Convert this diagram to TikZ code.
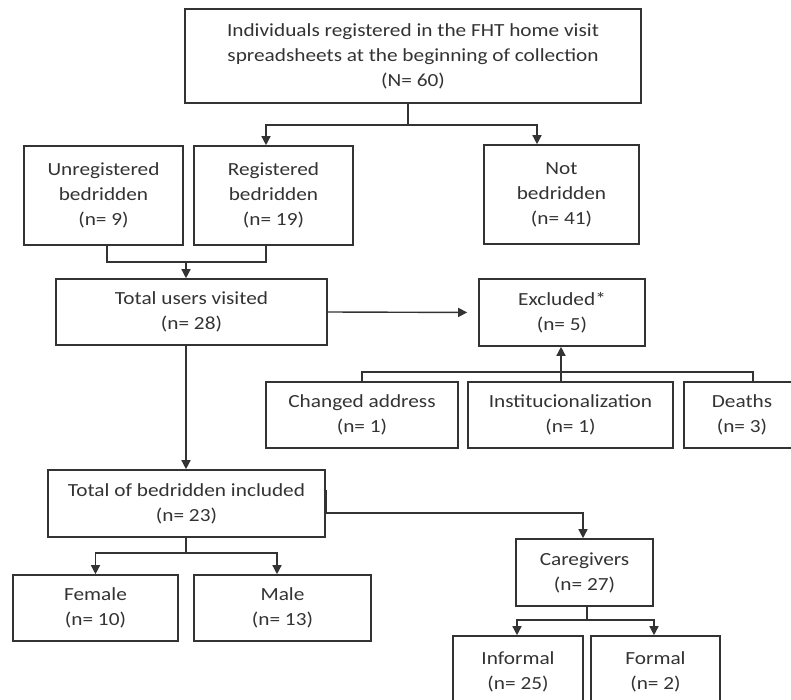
\documentclass[tikz,border=0pt]{standalone}
\usepackage{fontspec}
\setmainfont{Carlito}[FakeStretch=1.15]
\usetikzlibrary{arrows.meta}

\begin{document}
\begin{tikzpicture}[x=1pt,y=-1pt,font=\fontsize{18.5}{25}\selectfont]
			\tikzstyle{block} = [rectangle, draw=black!80, line width=1.6pt, text=black!80, align=center, inner sep=0pt];
			\tikzstyle{arr} = [draw=black!80, line width=1.4pt, -{Triangle[length=9pt,width=9pt]}];
			\tikzstyle{lin} = [draw=black!80, line width=1.4pt];
			\useasboundingbox (0,0) rectangle (791,700);
			\clip (0,0) rectangle (791,700);
			
			\draw node [block, minimum width=456pt, minimum height=94pt] at (413,56) (indiv){Individuals registered in the FHT home visit\\spreadsheets at the beginning of collection\\(N= 60)};
			\draw node [block, minimum width=159pt, minimum height=99pt] at (103.5,195.5) (unreg){Unregistered\\bedridden\\(n= 9)};
			\draw node [block, minimum width=159pt, minimum height=99pt] at (273.5,195.5) (reg){Registered\\bedridden\\(n= 19)};
			\draw node [block, minimum width=155pt, minimum height=99pt] at (561.5,194.5) (notbed){Not\\bedridden\\(n= 41)};
			\draw node [block, minimum width=271pt, minimum height=66pt] at (191.5,312) (visited){Total users visited\\(n= 28)};
			\draw node [block, minimum width=166pt, minimum height=67pt] at (562,312.5) (excl){Excluded*\\(n= 5)};
			\draw node [block, minimum width=192pt, minimum height=66pt] at (362,415) (addr){Changed address\\(n= 1)};
			\draw node [block, minimum width=205pt, minimum height=66pt] at (570.5,415) (inst){Institucionalization\\(n= 1)};
			\draw node [block, minimum width=116pt, minimum height=66pt] at (742,415) (death){Deaths\\(n= 3)};
			\draw node [block, minimum width=277pt, minimum height=67pt] at (186.5,503.5) (incl){Total of bedridden included\\(n= 23)};
			\draw node [block, minimum width=165pt, minimum height=66pt] at (95.5,608) (fem){Female\\(n= 10)};
			\draw node [block, minimum width=177pt, minimum height=66pt] at (282.5,608) (male){Male\\(n= 13)};
			\draw node [block, minimum width=137pt, minimum height=67pt] at (584.5,572.5) (care){Caregivers\\(n= 27)};
			\draw node [block, minimum width=130pt, minimum height=72pt] at (518,672) (inform){Informal\\(n= 25)};
			\draw node [block, minimum width=129pt, minimum height=72pt] at (655.5,672) (formal){Formal\\(n= 2)};
			
			% junctions
			\coordinate (jn1) at (408,125);
			\coordinate (jn2) at (186,262);
			\coordinate (jn3) at (561,372);
			\coordinate (jn4) at (186,553);
			\coordinate (jn5) at (587,620);
			
			\path [lin] ([xshift=-5pt]indiv.south) -- (jn1);
			\path [arr] (jn1) -| ([xshift=-7.5pt]reg.north);
			\path [arr] (jn1) -| ([xshift=-24.5pt]notbed.north);
			\path [lin] ([xshift=3.5pt]unreg.south) |- (jn2);
			\path [lin] ([xshift=-7.5pt]reg.south) |- (jn2);
			\path [arr] (jn2) -- (jn2 |- visited.north);
			\path [arr, shorten >=11pt] (visited.east) -- (excl.west);
			\path [arr] (jn2 |- visited.south) -- (jn2 |- incl.north);
			\path [lin] (addr.north) |- (jn3) -| ([xshift=11pt]death.north);
			\path [arr] (jn3 |- inst.north) -- (jn3 |- excl.south);
			\path [arr] ([yshift=13.5pt]incl.east) -- ([yshift=-9.5pt]incl.east) -| ([xshift=-1.5pt]care.north);
			\path [lin] (jn4 |- incl.south) -- (jn4);
			\path [arr] (jn4) -| (fem.north);
			\path [arr] (jn4) -| ([xshift=-5.5pt]male.north);
			\path [lin] (jn5 |- care.south) -- (jn5);
			\path [arr] (jn5) -| ([xshift=-1pt]inform.north);
			\path [arr] (jn5) -| ([xshift=-1.5pt]formal.north);
			
		\end{tikzpicture}
\end{document}
